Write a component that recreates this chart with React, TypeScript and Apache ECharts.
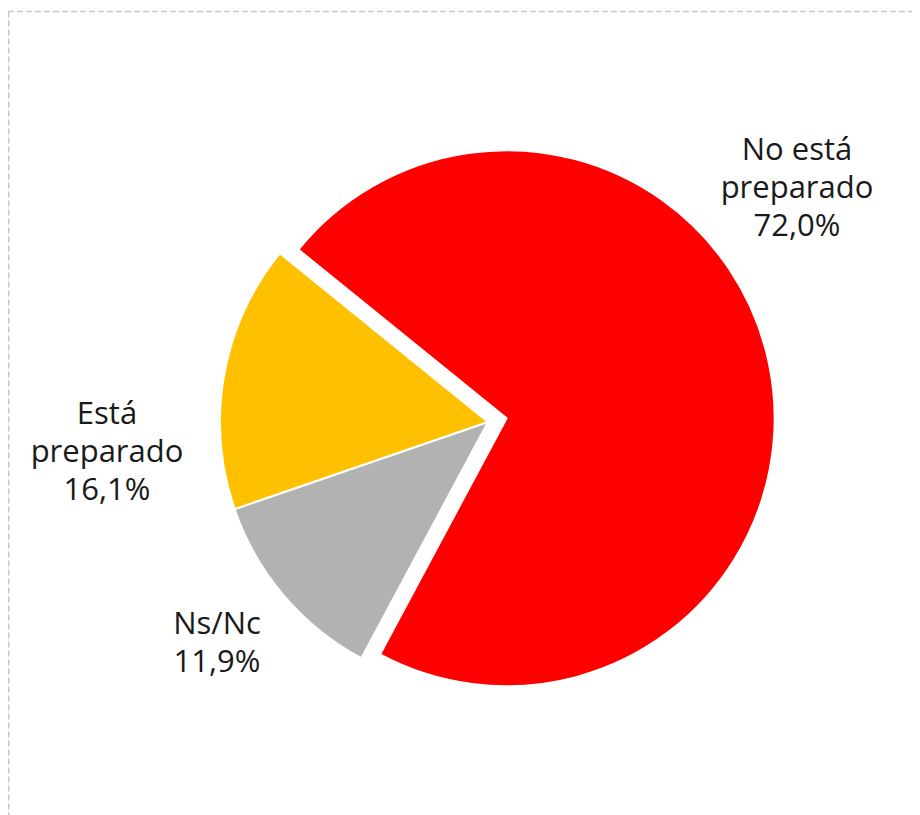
import React, { useEffect, useRef } from "react";
import * as echarts from "echarts";

const categories = ["No está preparado", "Ns/Nc", "Está preparado"];
const labelNames = ["No está\npreparado", "Ns/Nc", "Está\npreparado"];
const values = [72.0, 11.9, 16.1];
const colors = ["#FF0000", "#B2B2B2", "#FFC000"];
const exploded = [true, false, false];
const labelPos = [
  [789, 178],
  [209, 633],
  [99, 442],
];

const CENTER = [480, 414];
const OFFSET = 19;

export default function App() {
  const ref = useRef<HTMLDivElement>(null);
  useEffect(() => {
    if (!ref.current) return;
    const chart = echarts.init(ref.current, undefined, { renderer: "svg" });
    const total = values.reduce((a, b) => a + b, 0);
    const startAngle = 141;
    // mid angle of exploded slice (clockwise from startAngle)
    let acc = 0;
    let midAngle = startAngle;
    values.forEach((v, i) => {
      const sweep = (v / total) * 360;
      if (exploded[i]) midAngle = startAngle - acc - sweep / 2;
      acc += sweep;
    });
    const rad = (midAngle * Math.PI) / 180;
    const explodedCenter = [CENTER[0] + OFFSET * Math.cos(rad), CENTER[1] - OFFSET * Math.sin(rad)];

    const makeData = (showExploded: boolean) =>
      categories.map((name, i) => {
        const visible = exploded[i] === showExploded;
        return {
          name,
          value: values[i],
          itemStyle: visible
            ? { color: colors[i], borderColor: "#ffffff", borderWidth: 2 }
            : { color: "rgba(0,0,0,0)", borderWidth: 0 },
          label: { show: visible },
        };
      });

    const baseSeries = {
      type: "pie",
      radius: 268,
      startAngle,
      clockwise: true,
      silent: true,
      label: {
        show: true,
        position: "inside",
        overflow: "none",
        formatter: (p: any) =>
          labelNames[p.dataIndex] + "\n" + p.value.toFixed(1).replace(".", ",") + "%",
        fontFamily: "Open Sans, Lato, sans-serif",
        fontSize: 31,
        lineHeight: 38,
        color: "#1a1a1a",
        align: "center",
      },
      labelLine: { show: false },
      labelLayout: (params: any) => ({
        x: labelPos[params.dataIndex][0],
        y: labelPos[params.dataIndex][1],
        align: "center",
        verticalAlign: "middle",
      }),
      emphasis: { disabled: true },
    };

    chart.setOption({
      animation: false,
      backgroundColor: "#ffffff",
      graphic: [
        {
          type: "line",
          shape: { x1: 0, y1: 3.5, x2: 912, y2: 3.5 },
          style: { stroke: "#c8c8c8", lineWidth: 1.5, lineDash: [6, 3] },
          silent: true,
        },
        {
          type: "line",
          shape: { x1: 0.75, y1: 3.5, x2: 0.75, y2: 807 },
          style: { stroke: "#c8c8c8", lineWidth: 1.5, lineDash: [6, 3] },
          silent: true,
        },
      ],
      series: [
        { ...baseSeries, name: "base", center: CENTER, data: makeData(false) },
        { ...baseSeries, name: "exploded", center: explodedCenter, data: makeData(true) },
      ],
    });
    return () => chart.dispose();
  }, []);
  return <div ref={ref} style={{ width: 912, height: 807 }} />;
}
